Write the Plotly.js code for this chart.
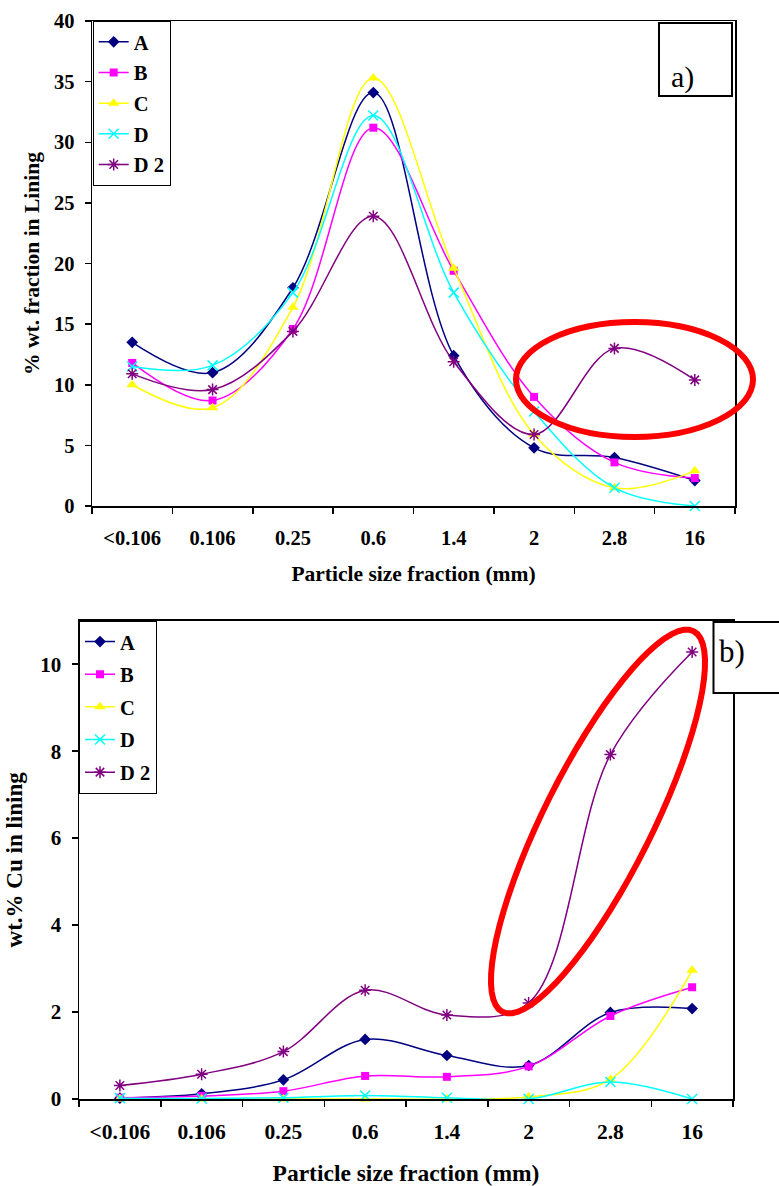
<!DOCTYPE html>
<html><head><meta charset="utf-8">
<script src="https://cdn.plot.ly/plotly-3.0.1.min.js"></script>
<style>body{margin:0;background:#fff}#chart{width:779px;height:1186px}</style>
</head><body><div id="chart"></div>
<script>
const categories = ['<0.106','0.106','0.25','0.6','1.4','2','2.8','16'];
const seriesNames = ['A','B','C','D','D 2'];

// a) % wt. fraction in Lining
const topA  = [13.5, 11.0, 18.0, 34.1, 12.4, 4.8, 4.0, 2.1];
const topB  = [11.8, 8.7, 14.6, 31.2, 19.4, 9.0, 3.6, 2.3];
const topC  = [10.0, 8.1, 16.4, 35.3, 19.6, 5.9, 1.5, 2.9];
const topD  = [11.5, 11.6, 17.6, 32.2, 17.6, 7.8, 1.5, 0.0];
const topD2 = [10.9, 9.6, 14.4, 23.9, 11.9, 5.9, 13.0, 10.4];

// b) wt.% Cu in lining
const botA  = [0.02, 0.12, 0.44, 1.37, 1.00, 0.77, 1.99, 2.08];
const botB  = [0.03, 0.07, 0.18, 0.53, 0.51, 0.75, 1.91, 2.57];
const botC  = [0.00, 0.00, 0.00, 0.00, 0.00, 0.05, 0.45, 2.96];
const botD  = [0.02, 0.01, 0.03, 0.08, 0.03, 0.00, 0.39, 0.00];
const botD2 = [0.31, 0.57, 1.09, 2.50, 1.93, 2.21, 7.92, 10.28];

const W = 779, H = 1186;
const ML = 79, MR = 44, MT = 21, MB = 87;
const PW = W - ML - MR, PH = H - MT - MB;
const px = x => (x - ML) / PW;
const py = y => (H - MB - y) / PH;

const styles = [
  {color:'#000080', symbol:'diamond', size:9, lw:1.5},
  {color:'#FF00FF', symbol:'square', size:8, lw:1.5},
  {color:'#FFFF00', symbol:'triangle-up', size:10, lw:1.5},
  {color:'#00FFFF', symbol:'x-thin-open', size:10, lw:1.5},
  {color:'#800080', symbol:'asterisk-open', size:10, lw:1.5}
];

const serif = 'Liberation Serif';
const traces = [];
function addSet(data, xa, ya, leg, prefix) {
  data.forEach((vals, i) => {
    const s = styles[i];
    traces.push({
      type:'scatter', mode:'lines+markers',
      x: categories, y: vals, xaxis: xa, yaxis: ya,
      name: seriesNames[i], legend: leg, legendgroup: prefix + i,
      cliponaxis: false,
      line: {color: s.color, width: s.lw, shape:'spline', smoothing: 1},
      marker: {symbol: s.symbol, size: s.size, color: s.color,
               line: {color: s.color, width: (s.symbol.indexOf('open')>=0 ? 1.5 : 0)}}
    });
  });
}
addSet([topA, topB, topC, topD, topD2], 'x', 'y', 'legend', 't');
addSet([botA, botB, botC, botD, botD2], 'x2', 'y2', 'legend2', 'b');

const f = (size) => ({family: serif, size: size, color:'#000', weight:'bold'});
const xCommon = {
  type:'category', range:[-0.5, 7.5], tickson:'boundaries',
  ticks:'outside', ticklen:6, tickwidth:1.5, tickcolor:'#000',
  showline:true, linecolor:'#000', linewidth:1.5, mirror:true,
  showgrid:false, zeroline:false, ticklabelstandoff: 13,
  fixedrange:true
};
const yCommon = {
  ticks:'outside', ticklen:6, tickwidth:1.5, tickcolor:'#000',
  showline:true, linecolor:'#000', linewidth:1.5, mirror:true,
  showgrid:false, zeroline:false, ticklabelstandoff: 6,
  fixedrange:true
};

const legendCommon = {
  xanchor:'left', yanchor:'top', bgcolor:'#fff', bordercolor:'#000', borderwidth:1,
  font: f(20.5), itemwidth: 30
};

// rotated ellipse for panel b
const ecx = 598, ecy = 821.5, ea = 213, eb = 54, th = 63.35 * Math.PI / 180;
let ep = '';
for (let k = 0; k <= 72; k++) {
  const t = 2 * Math.PI * k / 72;
  const xx = ecx + ea * Math.cos(t) * Math.cos(th) + eb * Math.sin(t) * Math.sin(th);
  const yy = ecy - ea * Math.cos(t) * Math.sin(th) + eb * Math.sin(t) * Math.cos(th);
  ep += (k === 0 ? 'M' : 'L') + px(xx).toFixed(5) + ',' + py(yy).toFixed(5);
}
ep += 'Z';

const layout = {
  width: W, height: H,
  margin: {l: ML, r: MR, t: MT, b: MB},
  paper_bgcolor:'#fff', plot_bgcolor:'#fff',
  showlegend: true,
  xaxis: Object.assign({}, xCommon, {domain:[px(92), px(735)], anchor:'y', tickfont: f(20.5),
    title:{text:'Particle size fraction (mm)', font: f(21.5), standoff: 18}}),
  yaxis: Object.assign({}, yCommon, {domain:[py(506), py(21)], anchor:'x', range:[0, 40], dtick:5, tickfont: f(20.5),
    title:{text:'% wt. fraction in Lining', font: f(21.5), standoff: 8}}),
  xaxis2: Object.assign({}, xCommon, {domain:[px(79), px(733)], anchor:'y2', tickfont: f(21.5),
    title:{text:'Particle size fraction (mm)', font: f(23.5), standoff: 22}}),
  yaxis2: Object.assign({}, yCommon, {domain:[py(1099), py(620.7)], anchor:'x2', range:[0, 11], dtick:2, tickfont: f(21),
    title:{text:'wt.% Cu in lining', font: f(23), standoff: 11}}),
  legend: Object.assign({}, legendCommon, {x: px(92.7), y: py(21), tracegroupgap: 1}),
  legend2: Object.assign({}, legendCommon, {x: px(79), y: py(620.7), tracegroupgap: 3}),
  shapes: [
    {type:'circle', xref:'paper', yref:'paper', x0:px(516), x1:px(753), y0:py(437), y1:py(322),
     line:{color:'#FF0000', width:6}, layer:'above'},
    {type:'path', xref:'paper', yref:'paper', path: ep, line:{color:'#FF0000', width:6}, layer:'above'},
    {type:'rect', xref:'paper', yref:'paper', x0:px(659), x1:px(732), y0:py(96), y1:py(23),
     line:{color:'#000', width:2}, fillcolor:'#fff', layer:'above'},
    {type:'rect', xref:'paper', yref:'paper', x0:px(713.5), x1:px(782), y0:py(693), y1:py(622),
     line:{color:'#000', width:2}, fillcolor:'#fff', layer:'above'}
  ],
  annotations: [
    {xref:'paper', yref:'paper', x:px(695.5), y:py(58), text:'a)', showarrow:false,
     font:{family: serif, size: 30, color:'#000'}},
    {xref:'paper', yref:'paper', x:px(747), y:py(652), text:'b)', showarrow:false,
     font:{family: serif, size: 31, color:'#000'}}
  ]
};

Plotly.newPlot('chart', traces, layout, {displayModeBar:false, staticPlot:true});
</script>
</body></html>
